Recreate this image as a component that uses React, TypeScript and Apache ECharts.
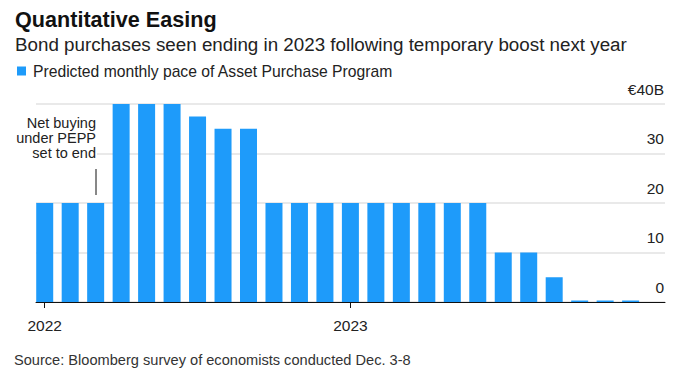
import React, { useEffect, useRef } from "react";
import * as echarts from "echarts";

const months: string[] = [
  "2022-01", "2022-02", "2022-03", "2022-04", "2022-05", "2022-06",
  "2022-07", "2022-08", "2022-09", "2022-10", "2022-11", "2022-12",
  "2023-01", "2023-02", "2023-03", "2023-04", "2023-05", "2023-06",
  "2023-07", "2023-08", "2023-09", "2023-10", "2023-11", "2023-12",
];
const appPace: number[] = [
  20, 20, 20, 40, 40, 40, 37.5, 35, 35, 20, 20, 20,
  20, 20, 20, 20, 20, 20, 10, 10, 5, 0.3, 0.3, 0.3,
];
const yearTicks: number[] = [0, 12];
const yTicks: number[] = [0, 10, 20, 30, 40];
const titleText = "Quantitative Easing";
const subtitleText = "Bond purchases seen ending in 2023 following temporary boost next year";
const seriesName = "Predicted monthly pace of Asset Purchase Program";
const sourceText = "Source: Bloomberg survey of economists conducted Dec. 3-8";
const noteText = "Net buying\nunder PEPP\nset to end";

const FONT = "'Liberation Sans', Arial, sans-serif";
const BLUE = "#1e9bfa";

export default function App() {
  const ref = useRef<HTMLDivElement>(null);
  useEffect(() => {
    if (!ref.current) return;
    const chart = echarts.init(ref.current, null, { renderer: "svg" });
    chart.setOption({
      animation: false,
      backgroundColor: "#ffffff",
      textStyle: { fontFamily: FONT },
      grid: { left: 36, right: 35, top: 104, bottom: 74, containLabel: false },
      legend: {
        left: 12,
        top: 58,
        icon: "rect",
        itemWidth: 9,
        itemHeight: 9,
        itemGap: 6,
        textStyle: { fontSize: 15.7, color: "#222", fontFamily: FONT, padding: [0, 0, 0, 2] },
        data: [seriesName],
      },
      xAxis: {
        type: "value",
        min: -0.342,
        max: 24.35,
        splitLine: { show: false },
        axisLine: { show: true, onZero: false, lineStyle: { color: "#111", width: 1 } },
        axisTick: {
          show: true,
          length: 6,
          lineStyle: { color: "#111" },
          customValues: yearTicks,
        },
        axisLabel: {
          customValues: yearTicks,
          formatter: (v: number) => months[Math.round(v)].slice(0, 4),
          color: "#222",
          fontSize: 15.5,
          fontFamily: FONT,
          margin: 15,
        },
      },
      yAxis: {
        type: "value",
        position: "right",
        min: 0,
        max: 40,
        interval: 10,
        axisLine: { show: false },
        axisTick: { show: false },
        splitLine: { show: true, lineStyle: { color: "#e2e2e2", width: 1.5 } },
        axisLabel: {
          inside: true,
          margin: 1,
          verticalAlign: "bottom",
          padding: [0, 0, 7, 0],
          color: "#222",
          fontSize: 15.5,
          fontFamily: FONT,
          formatter: (v: number) => (v === yTicks[yTicks.length - 1] ? "€" + v + "B" : String(v)),
        },
      },
      series: [
        {
          name: seriesName,
          type: "bar",
          data: appPace.map((v, i) => [i, v]),
          barWidth: 17,
          itemStyle: { color: BLUE },
        },
      ],
      graphic: [
        {
          type: "text",
          left: 15,
          top: 8.5,
          style: { text: titleText, font: `bold 21.6px ${FONT}`, fill: "#111" },
        },
        {
          type: "text",
          left: 15,
          top: 35,
          style: { text: subtitleText, font: `18.8px ${FONT}`, fill: "#222" },
        },
        {
          type: "text",
          left: 14,
          top: 352.5,
          style: { text: sourceText, font: `14.6px ${FONT}`, fill: "#333" },
        },
        {
          type: "text",
          x: 97,
          y: 115,
          z: 10,
          style: {
            text: noteText,
            font: `14.5px ${FONT}`,
            fill: "#222",
            align: "right",
            verticalAlign: "top",
            lineHeight: 15,
            backgroundColor: "#ffffff",
            padding: [0, 1, 0, 2],
          },
        },
        {
          type: "line",
          shape: { x1: 96, y1: 169, x2: 96, y2: 195 },
          style: { stroke: "#111", lineWidth: 1 },
        },
      ],
    });
    return () => chart.dispose();
  }, []);
  return (
    <div
      ref={ref}
      style={{ width: 700, height: 376, position: "absolute", left: 0, top: 0 }}
    />
  );
}
